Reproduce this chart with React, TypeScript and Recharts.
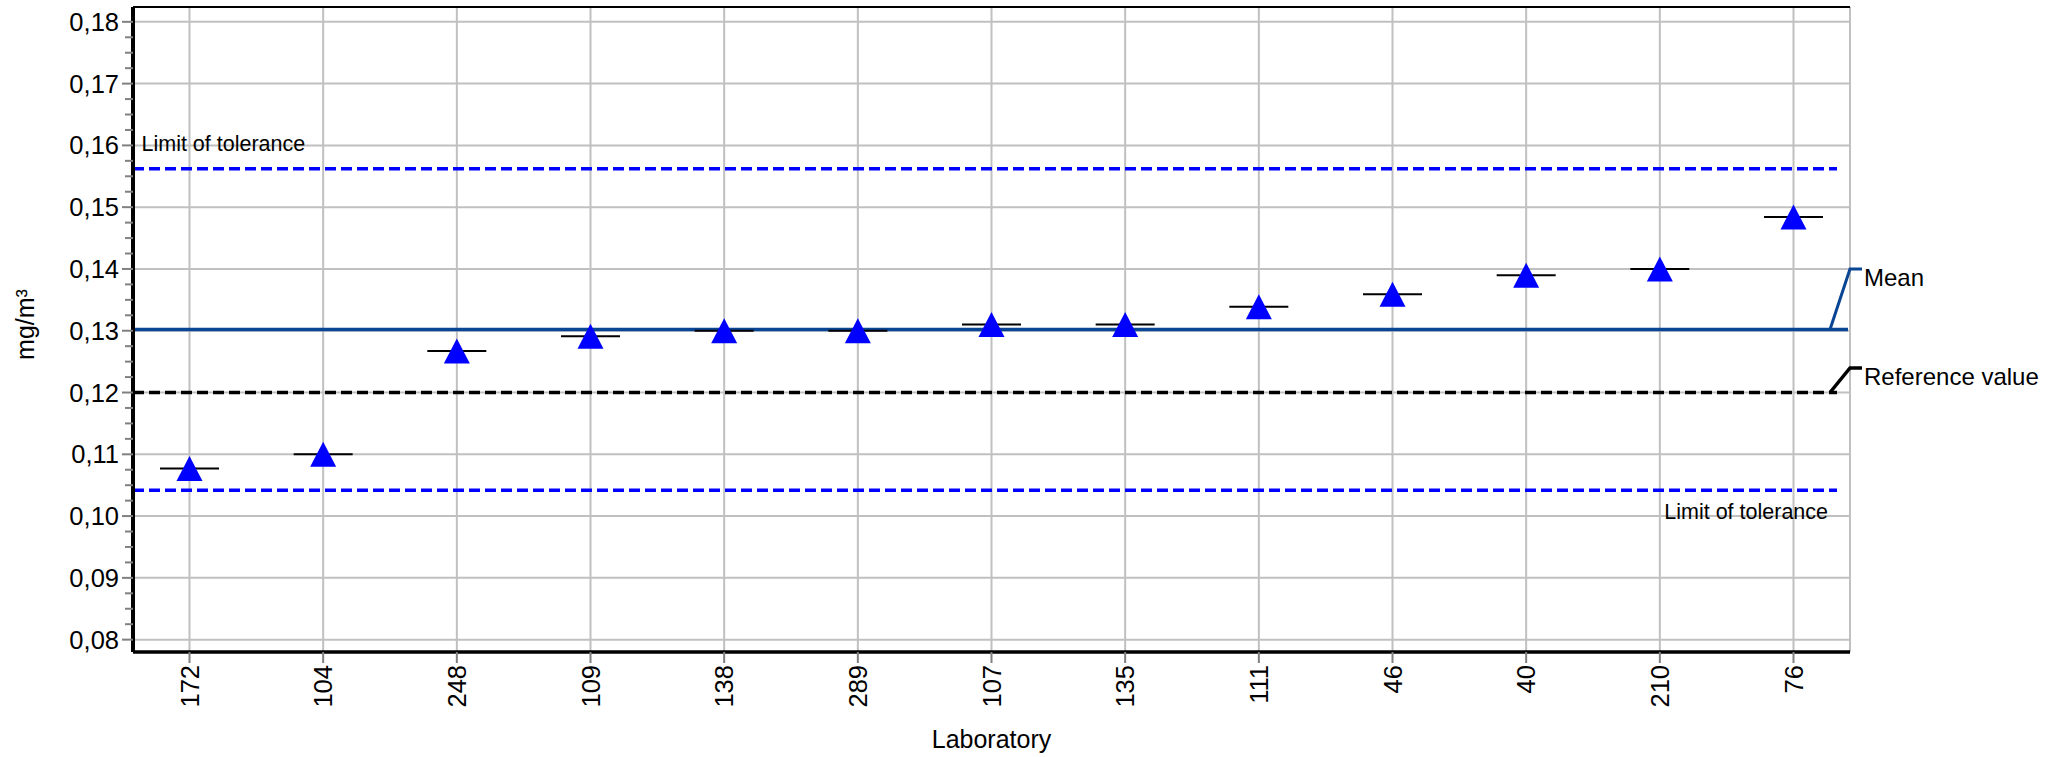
import {
  ComposedChart,
  Scatter,
  XAxis,
  YAxis,
  CartesianGrid,
  ReferenceLine,
} from "recharts";

const LABS = ["172", "104", "248", "109", "138", "289", "107", "135", "111", "46", "40", "210", "76"];
const VALUES = [0.1077, 0.11, 0.1267, 0.1291, 0.13, 0.13, 0.131, 0.131, 0.1339, 0.1359, 0.139, 0.14, 0.1484];

const MEAN = 0.1302;
const REFERENCE = 0.12;
const TOL_UPPER = 0.1562;
const TOL_LOWER = 0.1042;

const Y_DOMAIN = [0.078, 0.1824];
const Y_MAJOR = [0.08, 0.09, 0.1, 0.11, 0.12, 0.13, 0.14, 0.15, 0.16, 0.17, 0.18];
const Y_MINOR = Y_MAJOR.slice(0, -1).flatMap((v) =>
  [1, 2, 3].map((k) => Number((v + k * 0.0025).toFixed(4)))
);
const Y_TICKS = [...Y_MAJOR, ...Y_MINOR].sort((a, b) => a - b);

const rows = LABS.map((lab, i) => ({ lab, value: VALUES[i] }));

const FONT = "'Liberation Sans', Arial, sans-serif";
const MEAN_COLOR = "#0a4593";
const LIMIT_COLOR = "#0000ff";
const GRID = "#c0c0c0";

const fmt = (v: number) => v.toFixed(2).replace(".", ",");

const MgTick = (p: any) => {
  const { x, y, payload } = p;
  const v = payload.value as number;
  const major = Y_MAJOR.includes(v);
  return (
    <g>
      <line x1={x + (major ? 3 : 6)} x2={x + 14} y1={y} y2={y} stroke="#808080" strokeWidth={2} />
      {major && (
        <text x={x} y={y} textAnchor="end" dominantBaseline="central" fontSize={25.5} fill="#000">
          {fmt(v)}
        </text>
      )}
    </g>
  );
};

const LabTick = (p: any) => {
  const { x, y, payload } = p;
  return (
    <text
      x={x}
      y={y}
      transform={`rotate(-90, ${x}, ${y})`}
      textAnchor="end"
      dominantBaseline="central"
      fontSize={25.5}
      fill="#000"
    >
      {payload.value}
    </text>
  );
};

const YTitle = (p: any) => {
  const { x, y, height } = p.viewBox;
  const cx = x + 25;
  const cy = y + height / 2 - 5;
  return (
    <text
      x={cx}
      y={cy}
      transform={`rotate(-90, ${cx}, ${cy})`}
      textAnchor="middle"
      dominantBaseline="central"
      style={{ fontSize: 25 }}
      fill="#000"
    >
      mg/m³
    </text>
  );
};

const XTitle = (p: any) => {
  const { x, y, width } = p.viewBox;
  return (
    <text x={x + width / 2} y={y + 96} textAnchor="middle" fontSize={25} fill="#000">
      Laboratory
    </text>
  );
};

// dashed tolerance limits, label above-left or below-right
const limitShape = (upper: boolean) => (p: any) => {
  const { x1, x2, y1 } = p;
  return (
    <g>
      <line x1={x1} y1={y1} x2={x2 - 13} y2={y1} stroke={LIMIT_COLOR} strokeWidth={3.5} strokeDasharray="11 5" />
      <text
        x={upper ? x1 + 8.5 : x2 - 22}
        y={upper ? y1 - 17.5 : y1 + 29}
        textAnchor={upper ? "start" : "end"}
        fontSize={21.5}
        fill="#000"
      >
        Limit of tolerance
      </text>
    </g>
  );
};

const meanShape = (p: any) => {
  const { x1, x2, y1 } = p;
  const ly = y1 - 60.5;
  return (
    <g>
      <line x1={x1} y1={y1} x2={x2 - 2} y2={y1} stroke={MEAN_COLOR} strokeWidth={3.5} />
      <polyline points={`${x2 - 20},${y1} ${x2},${ly} ${x2 + 12},${ly}`} fill="none" stroke={MEAN_COLOR} strokeWidth={3} />
      <text x={x2 + 14} y={ly + 17} fontSize={24} fill="#000">
        Mean
      </text>
    </g>
  );
};

const refShape = (p: any) => {
  const { x1, x2, y1 } = p;
  const ly = y1 - 24.5;
  return (
    <g>
      <line x1={x1} y1={y1} x2={x2 - 13} y2={y1} stroke="#000" strokeWidth={3.5} strokeDasharray="11 5" />
      <polyline points={`${x2 - 20},${y1} ${x2},${ly} ${x2 + 12},${ly}`} fill="none" stroke="#000" strokeWidth={3.5} />
      <text x={x2 + 14} y={ly + 17} fontSize={24} fill="#000">
        Reference value
      </text>
    </g>
  );
};

const LabMark = (p: any) => {
  const { cx, cy } = p;
  if (cx == null || cy == null) return <g />;
  return (
    <g>
      <line x1={cx - 29.5} x2={cx + 29.5} y1={cy} y2={cy} stroke="#000" strokeWidth={2} />
      <polygon
        points={`${cx},${cy - 12.5} ${cx - 13},${cy + 12.5} ${cx + 13},${cy + 12.5}`}
        fill="#0000ff"
      />
    </g>
  );
};

export default function App() {
  return (
    <div style={{ position: "absolute", left: 0, top: 0, width: 2065, height: 757, background: "#fff" }}>
      <ComposedChart
        width={2065}
        height={757}
        data={rows}
        margin={{ top: 7, right: 215, bottom: 0, left: 0 }}
        style={{ fontFamily: FONT }}
      >
        <CartesianGrid stroke={GRID} strokeWidth={2} horizontalValues={Y_MAJOR} />
        <XAxis
          dataKey="lab"
          type="category"
          height={105}
          padding={{ left: 56.5, right: 56.5 }}
          interval={0}
          tickSize={11}
          tickMargin={2}
          tickLine={{ stroke: "#808080", strokeWidth: 2 }}
          axisLine={{ stroke: "#000", strokeWidth: 3.5 }}
          tick={(p: any) => <LabTick {...p} />}
          label={<XTitle />}
        />
        <YAxis
          type="number"
          domain={Y_DOMAIN}
          allowDataOverflow
          ticks={Y_TICKS}
          interval={0}
          width={133}
          tickSize={11}
          tickMargin={3}
          tickLine={false}
          axisLine={{ stroke: "#000", strokeWidth: 4 }}
          tick={(p: any) => <MgTick {...p} />}
          label={<YTitle />}
        />
        <YAxis
          yAxisId="frame"
          orientation="right"
          type="number"
          domain={Y_DOMAIN}
          allowDataOverflow
          width={0}
          tick={false}
          tickLine={false}
          axisLine={{ stroke: "#000", strokeWidth: 2 }}
        />
        <ReferenceLine y={Y_DOMAIN[1]} ifOverflow="visible" stroke="#000" strokeWidth={2} />
        <ReferenceLine y={TOL_UPPER} shape={limitShape(true)} />
        <ReferenceLine y={TOL_LOWER} shape={limitShape(false)} />
        <ReferenceLine y={REFERENCE} shape={refShape} />
        <ReferenceLine y={MEAN} shape={meanShape} />
        <Scatter dataKey="value" isAnimationActive={false} shape={(p: any) => <LabMark {...p} />} />
      </ComposedChart>
    </div>
  );
}
